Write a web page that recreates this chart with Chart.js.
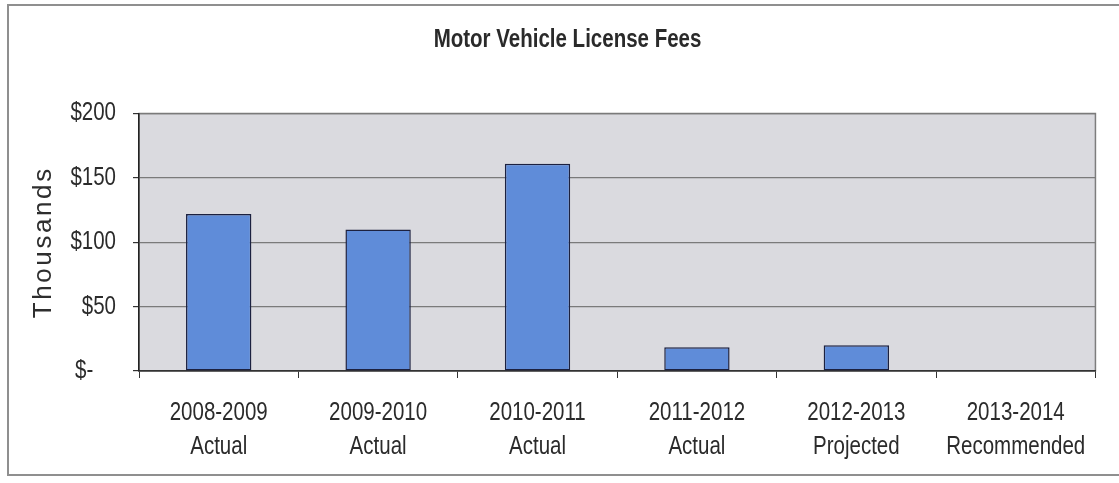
<!DOCTYPE html>
<html>
<head>
<meta charset="utf-8">
<script src="https://cdn.jsdelivr.net/npm/chart.js@4/dist/chart.umd.min.js"></script>
<style>
  html, body { margin: 0; padding: 0; background: #fff; overflow: hidden; }
  #wrap { position: relative; width: 1119px; height: 483px; }
  #frame { position: absolute; left: 7px; top: 4px; width: 1130px; height: 472px;
           border: 2px solid #8f8f8f; box-sizing: border-box; }
  canvas { position: absolute; left: 0; top: 0; }
</style>
</head>
<body>
<div id="wrap">
  <div id="frame"></div>
  <canvas id="c" width="1119" height="483"></canvas>
</div>
<script>
// Fiscal years and their status
const years = ['2008-2009', '2009-2010', '2010-2011', '2011-2012', '2012-2013', '2013-2014'];
const statuses = ['Actual', 'Actual', 'Actual', 'Actual', 'Projected', 'Recommended'];
// License fee revenue, in thousands of dollars
const fees = [122, 110, 161, 18.5, 20, 0];
// Value axis
const yTicks = [0, 50, 100, 150, 200];
const yTickLabels = ['$-    ', '$50', '$100', '$150', '$200'];

const sans = '"Liberation Sans", Arial, sans-serif';

// No narrow face is available, so chart text is drawn horizontally condensed
const canvas = document.getElementById('c');
const context = canvas.getContext('2d');
const plainFillText = context.fillText.bind(context);
context.fillText = function (text, x, y) {
  if (this.noCondense) return plainFillText(text, x, y);
  this.save();
  this.translate(x, y);
  this.scale(0.82, 1);
  plainFillText(text, 0, 0);
  this.restore();
};

// Gray plot background plus a thin frame around the plot area
const plotBackground = {
  id: 'plotBackground',
  beforeDraw(chart) {
    const { ctx, chartArea: a } = chart;
    ctx.save();
    ctx.fillStyle = '#dadadf';
    ctx.fillRect(a.left, a.top, a.right - a.left, a.bottom - a.top);
    ctx.strokeStyle = '#7d7d7d';
    ctx.lineWidth = 1.5;
    ctx.strokeRect(a.left, a.top, a.right - a.left, a.bottom - a.top);
    ctx.restore();
  }
};

// Spaced-out value axis title
const axisTitle = {
  id: 'axisTitle',
  afterDraw(chart) {
    const { ctx, chartArea: a } = chart;
    ctx.save();
    ctx.noCondense = true;
    ctx.translate(44, (a.top + a.bottom) / 2);
    ctx.rotate(-Math.PI / 2);
    ctx.font = '26px ' + sans;
    ctx.letterSpacing = '2.6px';
    ctx.fillStyle = '#2e2e2e';
    ctx.textAlign = 'center';
    ctx.textBaseline = 'middle';
    ctx.fillText('Thousands', 0, 0);
    ctx.noCondense = false;
    ctx.restore();
  }
};

new Chart(canvas, {
  type: 'bar',
  data: {
    labels: years.map((y, i) => [y, statuses[i]]),
    datasets: [{
      data: fees,
      backgroundColor: '#5f8cd9',
      borderColor: '#1c2140',
      borderWidth: 1.5,
      borderSkipped: false,
      categoryPercentage: 1,
      barPercentage: 0.41
    }]
  },
  options: {
    responsive: false,
    animation: false,
    events: [],
    layout: { padding: { left: 22, right: 6, top: 0, bottom: 0 } },
    plugins: {
      legend: { display: false },
      tooltip: { enabled: false },
      title: {
        display: true,
        text: 'Motor Vehicle License Fees',
        color: '#2a2a2a',
        font: { family: sans, size: 25, weight: 'bold', lineHeight: 1.2 },
        padding: { top: 25, bottom: 58.5 }
      }
    },
    scales: {
      x: {
        afterFit(s) { s.height = 112; },
        grid: { offset: true, drawOnChartArea: false, tickLength: 7, color: '#333', lineWidth: 1 },
        border: { color: '#333', width: 1.5 },
        ticks: {
          color: '#2b2b2b',
          padding: 18,
          maxRotation: 0,
          autoSkip: false,
          font: { family: sans, size: 25, lineHeight: 1.36 }
        }
      },
      y: {
        min: 0,
        max: 200,
        afterFit(s) { s.width = 117; },
        afterBuildTicks(s) { s.ticks = yTicks.map(v => ({ value: v })); },
        grid: { color: '#7a7a7a', lineWidth: 1.2, tickLength: 6, tickColor: '#333' },
        border: { color: '#222', width: 1.5 },
        ticks: {
          color: '#2b2b2b',
          padding: 17,
          font: { family: sans, size: 25 },
          callback(v) { return yTickLabels[yTicks.indexOf(v)]; }
        }
      }
    }
  },
  plugins: [plotBackground, axisTitle]
});
</script>
</body>
</html>
